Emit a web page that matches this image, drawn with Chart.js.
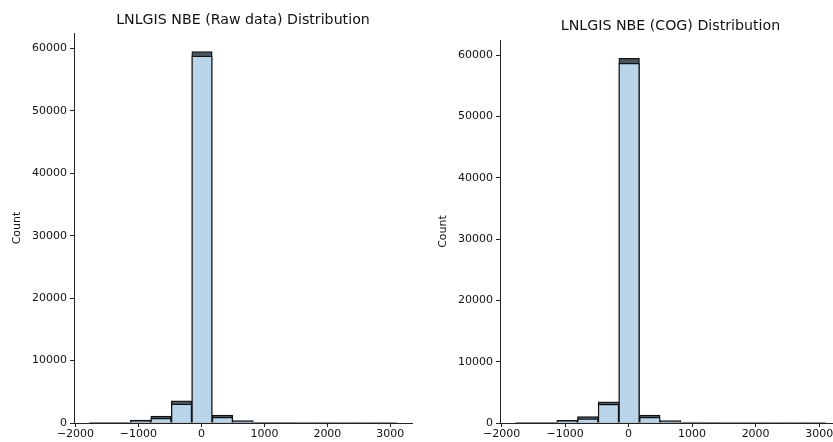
<!DOCTYPE html>
<html>
<head>
<meta charset="utf-8">
<script src="https://cdn.jsdelivr.net/npm/chart.js@4.4.1/dist/chart.umd.min.js"></script>
<style>
    html, body { margin: 0; padding: 0; background: #fff; overflow: hidden; }
    #wrap { position: relative; width: 833px; height: 442px; overflow: hidden; }
    .box { position: absolute; top: 0; height: 442px; }
</style>
</head>
<body>
<div id="wrap">
    <div class="box" style="left:0; width:420px;"><canvas id="rawChart"></canvas></div>
    <div class="box" style="left:420px; width:440px;"><canvas id="cogChart"></canvas></div>
</div>
<script>
// ビンの中心 (幅 約325)
const binCenters = [-1617, -1292, -967, -642, -316, 9, 334, 660, 985, 1310, 1636, 1961, 2286, 2612, 2937];

// Raw data ヒストグラム (上の層 / 下の層)
const rawTop   = [40, 90, 450, 1120, 3550, 59500, 1250, 370, 120, 40, 20, 15, 10, 8, 6];
const rawLower = [20, 50, 300, 750, 3050, 58800, 900, 200, 60, 20, 10, 8, 5, 4, 3];

// COG ヒストグラム
const cogTop   = [40, 90, 420, 1050, 3460, 59500, 1300, 380, 130, 40, 20, 15, 10, 8, 6];
const cogLower = [20, 50, 280, 700, 3040, 58700, 920, 210, 60, 20, 10, 8, 5, 4, 3];

// 目盛り
const xTickValues = [-2000, -1000, 0, 1000, 2000, 3000];
const yTickValues = [0, 10000, 20000, 30000, 40000, 50000, 60000];

const FONT = "'DejaVu Sans', sans-serif";

function toPoints(values) {
    return binCenters.map((c, i) => ({ x: c, y: values[i] }));
}

function fixedTicks(values) {
    return s => { s.ticks = values.map(v => ({ value: v })); };
}

function makeChart(id, titleText, topVals, lowerVals, cfg) {
    const ctx = document.getElementById(id).getContext('2d');
    return new Chart(ctx, {
        type: 'bar',
        data: {
            datasets: [
                {
                    data: toPoints(lowerVals),
                    backgroundColor: 'rgb(186, 213, 233)',
                    borderColor: '#111',
                    borderWidth: 1.3,
                    order: 1
                },
                {
                    data: toPoints(topVals),
                    backgroundColor: 'rgb(74, 86, 96)',
                    borderColor: '#111',
                    borderWidth: 1.3,
                    order: 2
                }
            ]
        },
        options: {
            responsive: true,
            maintainAspectRatio: false,
            animation: false,
            grouped: false,
            barPercentage: 1,
            categoryPercentage: 1,
            layout: { padding: { left: 0, right: cfg.padRight, top: 0, bottom: 0 } },
            scales: {
                x: {
                    type: 'linear',
                    offset: false,
                    min: -2024,
                    max: 3344,
                    afterBuildTicks: fixedTicks(xTickValues),
                    afterFit: s => { s.height = 19; },
                    grid: { offset: false, drawOnChartArea: false, drawTicks: true, tickLength: 4, color: '#222' },
                    border: { display: true, color: '#222', width: 1 },
                    ticks: {
                        autoSkip: false,
                        maxRotation: 0,
                        padding: 1,
                        color: '#111',
                        font: { family: FONT, size: 11 },
                        callback: v => String(v).replace('-', '\u2212')
                    }
                },
                y: {
                    min: 0,
                    max: 62475,
                    afterBuildTicks: fixedTicks(yTickValues),
                    afterFit: s => { s.width = cfg.yWidth; },
                    grid: { drawOnChartArea: false, drawTicks: true, tickLength: 4, color: '#222' },
                    border: { display: true, color: '#222', width: 1 },
                    ticks: {
                        autoSkip: false,
                        padding: 3,
                        color: '#111',
                        font: { family: FONT, size: 11 },
                        callback: v => String(v)
                    },
                    title: {
                        display: true,
                        text: 'Count',
                        color: '#111',
                        font: { family: FONT, size: 11 },
                        padding: { top: cfg.countPad, bottom: 0 }
                    }
                }
            },
            plugins: {
                legend: { display: false },
                tooltip: { enabled: false },
                title: {
                    display: true,
                    text: titleText,
                    fullSize: false,
                    color: '#111',
                    font: { family: FONT, size: 14.2, weight: 'normal' },
                    padding: { top: cfg.titleTop, bottom: cfg.titleBottom }
                }
            }
        }
    });
}

makeChart('rawChart', 'LNLGIS NBE (Raw data) Distribution', rawTop, rawLower,
    { yWidth: 74, padRight: 8, countPad: 11, titleTop: 11.5, titleBottom: 4.5 });
makeChart('cogChart', 'LNLGIS NBE (COG) Distribution', cogTop, cogLower,
    { yWidth: 80, padRight: 19, countPad: 17, titleTop: 17.5, titleBottom: 5.5 });
</script>
</body>
</html>
